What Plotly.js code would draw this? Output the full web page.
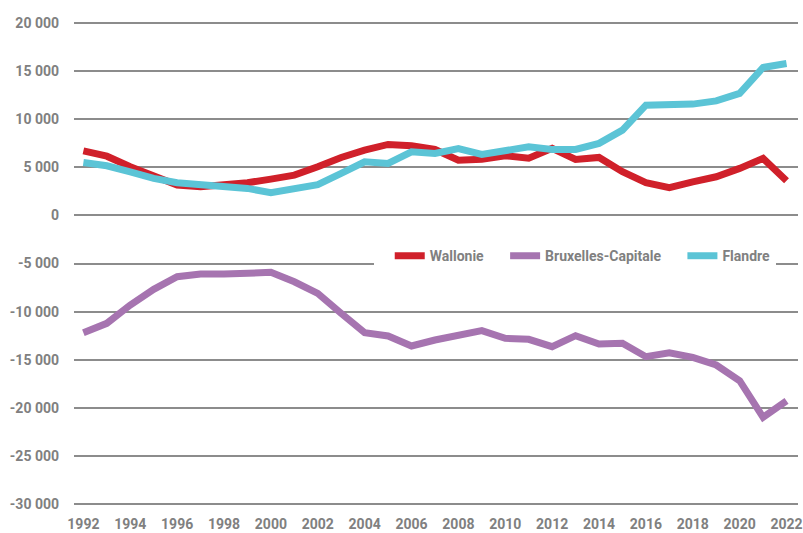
<!DOCTYPE html>
<html>
<head>
<meta charset="utf-8">
<script src="https://cdn.plot.ly/plotly-3.0.1.min.js"></script>
<style>html,body{margin:0;padding:0;background:#fff;}#chart{width:803px;height:533px;}</style>
</head>
<body>
<div id="chart"></div>
<script>
const years = [1992,1993,1994,1995,1996,1997,1998,1999,2000,2001,2002,2003,2004,2005,2006,2007,2008,2009,2010,2011,2012,2013,2014,2015,2016,2017,2018,2019,2020,2021,2022];
const wallonie = [6700,6150,5050,4080,3150,2970,3150,3390,3770,4180,5050,6020,6780,7370,7230,6850,5740,5840,6190,5950,6960,5810,6020,4530,3390,2870,3490,4010,4880,5920,3590];
const bruxelles = [-12190,-11215,-9315,-7685,-6375,-6095,-6095,-5920,-5920,-6895,-8100,-10180,-12190,-12530,-13570,-12950,-12430,-11980,-12770,-12880,-13640,-12500,-13360,-13290,-14680,-14270,-14750,-15550,-17180,-20980,-19280];
const flandre = [5500,5150,4530,3840,3390,3150,3040,2800,2350,2800,3200,4360,5570,5400,6600,6440,6950,6330,6680,7120,6850,6850,7480,8860,11450,11520,11560,11900,12670,15370,15780];
const seriesNames = ['Wallonie', 'Bruxelles-Capitale', 'Flandre'];
const yTicks = [20000,15000,10000,5000,0,-5000,-10000,-15000,-20000,-25000,-30000];
const yTickText = ['20 000','15 000','10 000','5 000','0','-5 000','-10 000','-15 000','-20 000','-25 000','-30 000'];
const xTicks = [1992,1994,1996,1998,2000,2002,2004,2006,2008,2010,2012,2014,2016,2018,2020,2022];

const fontFam = 'Roboto, "Liberation Sans", sans-serif';
const grey = '#808080';

const traces = [
  {x: years, y: wallonie, name: seriesNames[0], type: 'scatter', mode: 'lines', line: {color: '#d0202a', width: 7}},
  {x: years, y: bruxelles, name: seriesNames[1], type: 'scatter', mode: 'lines', line: {color: '#a674b0', width: 7}},
  {x: years, y: flandre, name: seriesNames[2], type: 'scatter', mode: 'lines', line: {color: '#5bc4d6', width: 7}}
];

const layout = {
  width: 803, height: 533,
  margin: {l: 74, r: 5, t: 20, b: 26},
  paper_bgcolor: '#ffffff', plot_bgcolor: '#ffffff',
  font: {family: fontFam, size: 13, color: grey, weight: 'bold'},
  showlegend: true,
  legend: {
    orientation: 'h', x: 0.414, xanchor: 'left', y: 0.548, yanchor: 'top',
    bgcolor: '#ffffff', font: {family: fontFam, size: 14, color: grey, weight: 'bold'},
    itemwidth: 30, tracegroupgap: 0, indentation: 16
  },
  shapes: [{
    type: 'rect', layer: 'between', xref: 'paper', yref: 'paper',
    x0: 0.395, x1: 1.01, y0: 0.49, y1: 0.53,
    fillcolor: '#ffffff', line: {width: 0}
  }],
  xaxis: {
    range: [1991.6, 2022.49], tickmode: 'array', tickvals: xTicks,
    showgrid: false, zeroline: false, showline: false, ticks: '',
    ticklabeloverflow: 'allow', ticklabelstandoff: 7,
    tickfont: {family: fontFam, size: 14, color: grey, weight: 'bold'}
  },
  yaxis: {
    range: [-30300, 20300], tickmode: 'array', tickvals: yTicks, ticktext: yTickText,
    showgrid: true, gridcolor: '#8c8c8c', gridwidth: 2, zeroline: false, showline: false, ticks: '',
    ticklabelstandoff: 14,
    tickfont: {family: fontFam, size: 14, color: grey, weight: 'bold'}
  }
};

Plotly.newPlot('chart', traces, layout, {displayModeBar: false, staticPlot: true});
</script>
</body>
</html>
